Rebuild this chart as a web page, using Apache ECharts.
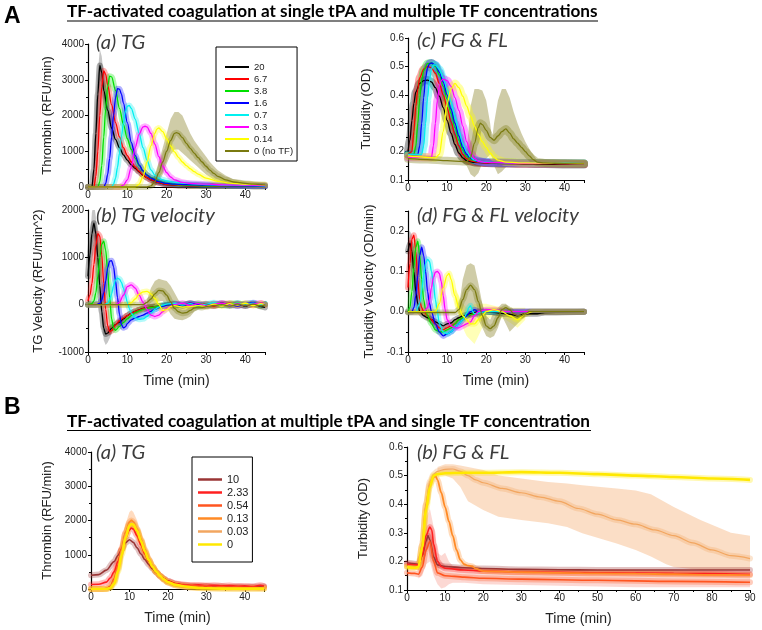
<!DOCTYPE html>
<html><head><meta charset="utf-8">
<script src="https://cdn.jsdelivr.net/npm/echarts@6/dist/echarts.min.js"></script>
<style>html,body{margin:0;padding:0;background:#fff}#c{width:762px;height:630px}</style>
</head><body><div id="c"></div>
<script>
// ---------------- DATA ----------------
const tfNames = ['20','6.7','3.8','1.6','0.7','0.3','0.14','0 (no TF)'];
const tpaNames = ['10','2.33','0.54','0.13','0.03','0'];

// A(a) thrombin generation (RFU/min) vs time (min)
const tg20 = [[0,0],[1,0],[1.5,500],[2,1500],[2.5,2600],[3,3400],[3.5,3200],[4,2700],[5,2150],[6,1650],[7,1330],[8,1100],[9,900],[10,750],[11,620],[12,520],[13,420],[14,330],[15,260],[16,200],[18,120],[20,70],[23,45],[26,35],[30,30],[35,25],[40,25],[45,20]];
const tg6_7 = [[0,0],[1.5,0],[2,300],[2.5,1000],[3,2000],[3.5,2800],[4,3250],[4.5,3150],[5,2850],[6,2300],[7,1800],[8,1400],[9,1100],[10,880],[11,700],[12,560],[13,440],[14,340],[15,260],[16,200],[18,120],[20,70],[23,45],[26,35],[30,30],[35,25],[40,25],[45,20]];
const tg3_8 = [[0,0],[2.5,0],[3,150],[3.5,600],[4,1400],[4.5,2200],[5,2800],[5.5,3100],[6,3080],[7,2700],[8,2200],[9,1750],[10,1350],[11,1050],[12,800],[13,600],[14,450],[15,340],[16,260],[18,160],[20,100],[23,60],[26,45],[30,35],[35,30],[40,25],[45,20]];
const tg1_6 = [[0,0],[4,0],[4.5,100],[5,350],[5.5,800],[6,1400],[6.5,2000],[7,2500],[7.5,2750],[8,2740],[8.5,2600],[9,2350],[10,1800],[11,1250],[12,880],[13,620],[14,450],[15,330],[16,250],[18,150],[20,100],[22,80],[25,65],[30,50],[35,40],[40,30],[45,25]];
const tg0_7 = [[0,0],[6,0],[6.5,80],[7,250],[7.5,550],[8,950],[8.5,1400],[9,1800],[9.5,2100],[10,2260],[10.5,2280],[11,2200],[12,1900],[13,1500],[14,1100],[15,750],[16,480],[17,330],[18,250],[19,200],[20,170],[22,130],[25,100],[30,70],[35,55],[40,45],[45,35]];
const tg0_3 = [[0,0],[8,0],[9,50],[10,200],[11,550],[12,1100],[13,1480],[14,1680],[14.5,1700],[15,1680],[16,1500],[17,1200],[18,850],[19,580],[20,400],[21,280],[22,200],[24,130],[26,100],[30,80],[35,60],[40,50],[45,40]];
const tg0_14 = [[0,0],[12,0],[13,80],[14,300],[15,700],[16,1150],[17,1500],[17.5,1620],[18,1650],[19,1550],[20,1350],[21,1150],[22,980],[23,830],[24,700],[25,600],[26,510],[27,430],[28,360],[30,250],[33,160],[36,110],[40,80],[45,60]];
const tg0 = [[0,0],[15,0],[16,30],[17,150],[18,400],[19,700],[20,1000],[21,1300],[22,1500],[22.5,1520],[23,1500],[24,1380],[25,1220],[26,1080],[27,950],[28,820],[29,700],[30,580],[31,470],[32,380],[33,300],[35,200],[37,140],[40,100],[42,80],[45,60]];
// bands [time, low, high]
const tg20Band = [[1.5,200,900],[2,1000,2400],[2.5,2000,3200],[3,3000,3850],[3.5,2900,3650],[4,2450,3100],[5,1950,2450],[6,1500,1850]];
const tg0Band = [[16,-30,100],[17,0,350],[18,150,700],[19,350,1100],[20,650,1500],[21,900,1900],[22,1050,2100],[23,1050,2100],[24,950,2000],[25,850,1750],[26,750,1500],[27,650,1300],[28,550,1150],[29,450,1000],[30,350,850],[31,280,700],[32,200,580],[33,150,470],[35,100,320],[37,70,220],[40,50,160],[45,30,120]];

// A(c) turbidity (OD)
const fg20 = [[0,0.2],[0.5,0.24],[1,0.31],[1.5,0.37],[2,0.41],[3,0.44],[4,0.45],[5,0.452],[6,0.445],[7,0.425],[8,0.395],[9,0.355],[10,0.31],[11,0.265],[12,0.225],[13,0.195],[14,0.178],[15,0.168],[17,0.162],[20,0.16],[25,0.158],[30,0.157],[35,0.156],[40,0.155],[45,0.155]];
const fg6_7 = [[0,0.19],[1,0.2],[1.5,0.27],[2,0.36],[2.5,0.42],[3,0.46],[4,0.49],[5,0.5],[6,0.495],[7,0.475],[8,0.44],[9,0.4],[10,0.355],[11,0.305],[12,0.26],[13,0.22],[14,0.19],[15,0.175],[16,0.167],[18,0.162],[20,0.16],[30,0.158],[45,0.156]];
const fg3_8 = [[0,0.19],[1.5,0.19],[2,0.22],[2.5,0.3],[3,0.39],[3.5,0.45],[4,0.485],[5,0.51],[6,0.512],[7,0.5],[8,0.47],[9,0.43],[10,0.385],[11,0.335],[12,0.285],[13,0.24],[14,0.205],[15,0.183],[16,0.172],[18,0.165],[20,0.162],[30,0.16],[45,0.158]];
const fg1_6 = [[0,0.19],[2.5,0.19],[3,0.22],[3.5,0.3],[4,0.39],[4.5,0.46],[5,0.495],[5.5,0.51],[6,0.512],[7,0.505],[8,0.48],[9,0.445],[10,0.4],[11,0.35],[12,0.3],[13,0.255],[14,0.215],[15,0.19],[16,0.175],[18,0.165],[20,0.162],[30,0.16],[45,0.158]];
const fg0_7 = [[0,0.19],[3.5,0.19],[4,0.22],[4.5,0.3],[5,0.39],[5.5,0.45],[6,0.49],[6.5,0.505],[7,0.505],[8,0.49],[9,0.46],[10,0.42],[11,0.375],[12,0.325],[13,0.275],[14,0.23],[15,0.2],[16,0.18],[17,0.17],[19,0.164],[22,0.161],[30,0.16],[45,0.158]];
const fg0_3 = [[0,0.18],[6,0.18],[6.5,0.22],[7,0.3],[7.5,0.38],[8,0.43],[8.5,0.45],[9,0.455],[10,0.45],[11,0.43],[12,0.39],[13,0.345],[14,0.29],[15,0.235],[16,0.195],[17,0.175],[18,0.166],[20,0.162],[30,0.159],[45,0.157]];
const fg0_14 = [[0,0.185],[2,0.182],[5,0.18],[7,0.178],[8,0.19],[9,0.27],[10,0.37],[11,0.42],[12,0.44],[13,0.425],[14,0.395],[15,0.36],[16,0.325],[17,0.29],[18,0.26],[19,0.235],[20,0.215],[21,0.195],[22,0.18],[23,0.17],[25,0.163],[30,0.16],[45,0.158]];
const fg0 = [[0,0.175],[5,0.172],[10,0.168],[14,0.165],[15,0.165],[16,0.18],[17,0.23],[18,0.285],[18.5,0.3],[19,0.295],[20,0.275],[21,0.25],[22,0.24],[23,0.255],[24,0.27],[25,0.28],[26,0.265],[27,0.245],[28,0.23],[29,0.215],[30,0.2],[31,0.185],[32,0.172],[33,0.163],[35,0.16],[40,0.158],[45,0.157]];
const fg0Band = [[14,0.16,0.17],[15,0.15,0.2],[16,0.12,0.36],[17,0.11,0.42],[18,0.125,0.42],[19,0.16,0.415],[20,0.175,0.38],[21,0.19,0.3],[21.5,0.18,0.24],[22,0.15,0.3],[23,0.12,0.38],[24,0.13,0.42],[25,0.145,0.42],[26,0.15,0.39],[27,0.15,0.34],[28,0.152,0.3],[29,0.153,0.265],[30,0.154,0.235],[31,0.155,0.21],[32,0.155,0.19],[33,0.155,0.17]];

// A(b) TG velocity (RFU/min^2)
const vt20 = [[0,600],[0.5,1050],[1,1500],[1.5,1720],[2,1500],[2.5,1000],[3,400],[3.5,-150],[4,-500],[4.5,-620],[5,-600],[6,-500],[7,-420],[8,-370],[9,-300],[10,-230],[11,-180],[12,-140],[13,-110],[14,-80],[16,-50],[18,-30],[20,-10],[22,10],[24,-20],[26,20],[28,-30],[30,10],[32,-20],[34,30],[36,-10],[38,20],[40,-30],[42,20],[44,-40],[45,-60]];
const vt6_7 = [[0,80],[0.5,200],[1,450],[1.5,850],[2,1250],[2.5,1500],[3,1450],[3.5,1050],[4,450],[4.5,-100],[5,-450],[5.5,-570],[6,-550],[7,-430],[8,-340],[9,-280],[10,-230],[11,-180],[12,-140],[13,-110],[14,-85],[16,-55],[18,-30],[20,-10],[22,20],[24,-10],[26,30],[28,-20],[30,20],[32,-30],[34,10],[36,30],[38,-20],[40,20],[42,-10],[44,30],[45,0]];
const vt3_8 = [[0,0],[1,20],[1.5,80],[2,250],[2.5,600],[3,1000],[3.5,1280],[4,1340],[4.5,1150],[5,700],[5.5,150],[6,-300],[6.5,-500],[7,-540],[8,-460],[9,-380],[10,-300],[11,-230],[12,-170],[13,-130],[14,-100],[16,-60],[18,-30],[20,-10],[22,-20],[24,20],[26,-10],[28,30],[30,-20],[32,20],[34,-10],[36,20],[38,30],[40,-10],[42,20],[44,-20],[45,10]];
const vt1_6 = [[0,0],[2,0],[3,30],[3.5,100],[4,250],[4.5,500],[5,780],[5.5,920],[6,930],[6.5,800],[7,500],[7.5,150],[8,-200],[8.5,-420],[9,-490],[9.5,-470],[10,-400],[11,-320],[12,-280],[13,-250],[14,-220],[15,-180],[16,-140],[17,-100],[18,-60],[19,-30],[20,-10],[22,10],[24,-20],[26,30],[28,0],[30,-30],[32,20],[34,-10],[36,10],[38,-30],[40,20],[42,40],[44,-10],[45,10]];
const vt0_7 = [[0,0],[4,0],[5,30],[5.5,100],[6,230],[6.5,400],[7,520],[7.5,560],[8,540],[8.5,470],[9,350],[9.5,200],[10,50],[10.5,-80],[11,-180],[12,-280],[13,-310],[14,-300],[15,-250],[16,-180],[17,-100],[18,-50],[19,-10],[20,10],[22,30],[24,-10],[26,20],[28,-30],[30,10],[32,40],[34,0],[36,-20],[38,30],[40,-10],[42,30],[44,0],[45,20]];
const vt0_3 = [[0,0],[7,0],[8,50],[9,200],[10,380],[11,420],[12,350],[13,200],[14,50],[15,-100],[16,-220],[17,-250],[18,-220],[19,-150],[20,-80],[21,-30],[22,0],[24,30],[26,-20],[28,20],[30,-30],[32,10],[34,30],[36,-10],[38,20],[40,-20],[42,10],[44,30],[45,0]];
const vt0_14 = [[0,0],[10,0],[11,40],[12,120],[13,220],[14,270],[15,280],[16,230],[17,130],[18,0],[19,-130],[20,-100],[21,-40],[22,-20],[24,-50],[26,-40],[28,-20],[30,-40],[32,10],[34,-30],[36,20],[38,-10],[40,30],[42,-20],[44,20],[45,0]];
const vt0 = [[0,0],[14,0],[15,50],[16,120],[17,230],[18,300],[19,290],[20,200],[21,60],[22,-80],[23,-150],[24,-180],[25,-170],[26,-120],[27,-70],[28,-50],[29,-60],[30,-40],[32,-20],[34,0],[36,-30],[38,10],[40,-20],[42,10],[44,-30],[45,0]];
const vt20Band = [[0,200,900],[0.5,700,1400],[1,1200,1950],[1.5,1450,2150],[2,1250,1850],[2.5,800,1250],[3,200,600],[3.5,-350,50],[4,-750,-300],[4.5,-850,-450],[5,-800,-450],[6,-620,-400]];
const vt0Band = [[15,-20,100],[16,-50,350],[17,0,500],[18,80,550],[19,80,520],[20,-50,500],[21,-200,400],[22,-300,250],[23,-320,100],[24,-330,0],[25,-300,-50],[26,-250,0],[27,-150,20],[28,-100,0],[30,-80,0]];

// A(d) turbidity velocity (OD/min)
const vf20 = [[0,0.15],[0.5,0.17],[1,0.15],[1.5,0.1],[2,0.05],[2.5,0.02],[3,0.0],[4,-0.01],[5,-0.015],[6,-0.02],[7,-0.025],[8,-0.03],[9,-0.035],[10,-0.03],[11,-0.028],[12,-0.02],[13,-0.015],[14,-0.01],[16,-0.005],[18,0],[20,0],[25,-0.005],[28,-0.01],[30,-0.005],[33,-0.005],[35,-0.002],[45,0]];
const vf6_7 = [[0,0.06],[0.5,0.12],[1,0.18],[1.5,0.19],[2,0.15],[2.5,0.08],[3,0.03],[3.5,0.01],[4,0],[5,-0.01],[6,-0.02],[7,-0.03],[8,-0.04],[9,-0.045],[10,-0.04],[11,-0.035],[12,-0.03],[13,-0.02],[14,-0.015],[15,-0.01],[17,-0.005],[20,0],[45,0]];
const vf3_8 = [[0,0],[0.5,0.01],[1,0.05],[1.5,0.11],[2,0.16],[2.5,0.175],[3,0.14],[3.5,0.08],[4,0.03],[4.5,0.005],[5,-0.01],[6,-0.03],[7,-0.045],[8,-0.05],[9,-0.05],[10,-0.045],[11,-0.04],[12,-0.03],[13,-0.02],[14,-0.015],[15,-0.01],[17,-0.005],[20,0],[45,0]];
const vf1_6 = [[0,0],[1,0],[1.5,0.01],[2,0.04],[2.5,0.09],[3,0.14],[3.5,0.16],[4,0.14],[4.5,0.1],[5,0.05],[5.5,0.02],[6,0],[7,-0.03],[8,-0.05],[9,-0.06],[10,-0.055],[11,-0.05],[12,-0.04],[13,-0.03],[14,-0.02],[15,-0.01],[16,0],[17,0.005],[18,0],[20,0],[45,0]];
const vf0_7 = [[0,0],[2,0],[3,0.02],[3.5,0.05],[4,0.09],[4.5,0.12],[5,0.13],[5.5,0.125],[6,0.1],[6.5,0.07],[7,0.03],[7.5,0],[8,-0.03],[9,-0.05],[10,-0.055],[11,-0.05],[12,-0.04],[13,-0.03],[14,-0.02],[15,-0.005],[15.5,0.01],[16,0.015],[16.5,0],[17,-0.005],[20,0],[45,0]];
const vf0_3 = [[0,0],[4,0],[5,0.01],[5.5,0.03],[6,0.06],[6.5,0.085],[7,0.098],[7.5,0.1],[8,0.095],[8.5,0.075],[9,0.04],[9.5,0.005],[10,-0.02],[11,-0.035],[12,-0.04],[13,-0.04],[14,-0.035],[15,-0.03],[16,-0.025],[17,-0.01],[18,0],[20,0.005],[22,0.005],[25,0],[45,0]];
const vf0_14 = [[0,0],[7,0],[8,0.02],[9,0.06],[10,0.09],[10.5,0.095],[11,0.08],[12,0.04],[13,0.01],[14,-0.01],[15,-0.02],[16,-0.03],[17,-0.03],[18,-0.02],[19,-0.01],[20,0],[22,0.005],[24,0],[26,-0.01],[28,-0.02],[30,-0.005],[32,0],[45,0]];
const vf0 = [[0,-0.002],[12,-0.002],[13,0.005],[14,0.03],[15,0.055],[16,0.066],[17,0.055],[18,0.025],[19,-0.01],[20,-0.035],[21,-0.042],[22,-0.035],[23,-0.015],[24,0.005],[25,0.01],[26,0.005],[27,-0.005],[28,-0.01],[29,-0.01],[30,-0.005],[31,0],[45,0]];
const vf20Band = [[0,0.12,0.2],[0.5,0.13,0.2],[1,0.12,0.19],[1.5,0.07,0.13]];
const vf0_14Band = [[12,0.02,0.06],[13,-0.01,0.04],[14,-0.04,0.02],[15,-0.06,0.01],[16,-0.07,0.01],[17,-0.08,0.02],[18,-0.06,0.02],[19,-0.04,0.02],[20,-0.02,0.02],[22,-0.01,0.015],[25,-0.02,0.01],[28,-0.04,0.01],[30,-0.02,0.01]];
const vf0Band = [[13,-0.005,0.01],[14,-0.01,0.08],[15,0,0.115],[16,0.01,0.12],[17,0,0.115],[18,-0.02,0.07],[19,-0.04,0.02],[20,-0.06,-0.01],[21,-0.065,-0.02],[22,-0.06,0],[23,-0.04,0.01],[24,-0.01,0.02],[25,-0.03,0.02],[26,-0.05,0.01],[27,-0.04,0.005],[28,-0.03,0.005],[30,-0.01,0]];

// B(a) thrombin generation at multiple tPA
const bt10 = [[0,400],[2,420],[4,550],[6,800],[7,980],[8,1150],[9,1350],[10,1440],[11,1360],[12,1200],[13,1020],[14,860],[15,720],[16,590],[17,480],[18,380],[19,300],[20,230],[22,150],[24,110],[26,90],[28,80],[30,85],[32,70],[34,75],[36,60],[38,70],[40,60],[42,65],[44,70],[45,80]];
const bt2_33 = [[0,130],[2,140],[4,200],[5,320],[6,500],[7,800],[8,1150],[9,1500],[10,1720],[10.5,1780],[11,1750],[12,1550],[13,1280],[14,1020],[15,810],[16,630],[17,490],[18,380],[19,300],[20,230],[22,160],[24,130],[26,110],[28,120],[30,100],[32,110],[34,90],[36,100],[38,80],[40,90],[42,70],[44,110],[45,80]];
const bt0_54 = [[0,0],[3,0],[4,20],[5,80],[6,300],[7,700],[8,1200],[9,1650],[10,1880],[10.5,1920],[11,1880],[12,1680],[13,1400],[14,1100],[15,860],[16,660],[17,500],[18,380],[19,280],[20,200],[22,140],[24,110],[26,100],[28,80],[30,90],[32,60],[34,70],[36,50],[38,60],[40,40],[42,50],[44,40],[45,50]];
const bt0_13 = [[0,0],[4,0],[5,50],[6,220],[7,600],[8,1150],[9,1650],[10,1950],[10.5,2000],[11,1960],[12,1750],[13,1450],[14,1150],[15,880],[16,670],[17,500],[18,370],[19,270],[20,190],[22,110],[24,70],[26,50],[28,40],[30,30],[35,20],[40,20],[45,20]];
const bt0_03 = [[0,0],[4,0],[5,40],[6,200],[7,560],[8,1100],[9,1600],[10,1900],[10.5,1950],[11,1920],[12,1720],[13,1430],[14,1130],[15,870],[16,660],[17,490],[18,360],[19,260],[20,185],[22,110],[24,70],[26,50],[28,35],[30,25],[35,20],[40,15],[45,15]];
const bt0 = [[0,0],[4,0],[5,30],[6,150],[7,500],[8,1000],[9,1500],[10,1850],[10.5,1900],[11,1880],[12,1700],[13,1400],[14,1100],[15,850],[16,650],[17,500],[18,380],[19,280],[20,200],[22,120],[24,80],[26,50],[28,30],[30,20],[35,10],[45,10]];
const bt0_13Band = [[6,150,300],[7,450,800],[8,950,1400],[9,1450,1900],[10,1700,2250],[10.5,1750,2300],[11,1700,2250],[12,1500,2000],[13,1250,1650],[14,1000,1300],[15,780,1000]];

// B(b) turbidity at multiple tPA
const bo10 = [[0,0.195],[2,0.192],[3,0.19],[4,0.22],[5,0.27],[5.5,0.29],[6,0.275],[7,0.215],[8,0.188],[10,0.182],[15,0.178],[20,0.175],[30,0.172],[40,0.171],[50,0.17],[60,0.17],[70,0.17],[80,0.17],[90,0.17]];
const bo2_33 = [[0,0.19],[3,0.188],[4,0.22],[5,0.29],[6,0.32],[6.5,0.31],[7,0.26],[8,0.2],[9,0.182],[10,0.176],[15,0.17],[20,0.166],[30,0.163],[50,0.16],[70,0.158],[90,0.155]];
const bo0_54 = [[0,0.16],[2,0.158],[3,0.155],[4,0.18],[5,0.24],[6,0.27],[7,0.2],[8,0.16],[10,0.15],[15,0.145],[20,0.141],[30,0.138],[50,0.134],[70,0.13],[90,0.127]];
const bo0_13 = [[0,0.182],[3,0.18],[4,0.26],[5,0.4],[6,0.47],[7,0.495],[7.5,0.498],[8,0.485],[9,0.44],[10,0.39],[11,0.34],[12,0.29],[13,0.24],[14,0.205],[15,0.19],[16,0.185],[17,0.183],[18,0.175],[20,0.166],[30,0.162],[40,0.16],[50,0.158],[60,0.157],[70,0.155],[80,0.153],[90,0.152]];
const bo0_03 = [[0,0.182],[3,0.18],[4,0.26],[5,0.4],[6,0.48],[7,0.505],[8,0.515],[10,0.522],[12,0.523],[14,0.515],[16,0.5],[18,0.485],[20,0.475],[25,0.455],[30,0.44],[35,0.425],[40,0.41],[45,0.385],[50,0.365],[55,0.345],[60,0.33],[65,0.31],[70,0.29],[75,0.265],[80,0.24],[85,0.22],[90,0.21]];
const bo0 = [[0,0.18],[2,0.178],[3,0.18],[4,0.25],[5,0.38],[6,0.46],[7,0.5],[8,0.505],[10,0.508],[15,0.51],[20,0.51],[30,0.512],[40,0.51],[50,0.505],[60,0.5],[70,0.495],[80,0.49],[90,0.485]];
const bo0_03Band = [[8,0.5,0.53],[10,0.5,0.54],[12,0.49,0.54],[14,0.46,0.535],[16,0.41,0.53],[20,0.38,0.52],[24,0.356,0.5],[30,0.345,0.49],[37,0.333,0.478],[42,0.32,0.472],[46,0.298,0.466],[55,0.263,0.455],[60,0.24,0.448],[64,0.217,0.435],[68,0.19,0.405],[70,0.18,0.39],[77,0.17,0.345],[85,0.17,0.3],[90,0.17,0.29]];
const boRedBand = [[3,0.14,0.2],[4,0.15,0.26],[5,0.19,0.35],[6,0.2,0.385],[7,0.15,0.32],[8,0.12,0.23],[9,0.105,0.22],[10,0.11,0.23],[11,0.12,0.2],[12,0.125,0.185],[15,0.125,0.18],[20,0.12,0.175],[40,0.115,0.17],[60,0.11,0.17],[90,0.11,0.165]];

// ---------------- STYLE / LAYOUT ----------------
const tfColors = ['#000000','#ff0000','#00e000','#0000ff','#00f0f0','#ff00ff','#ffff00','#7a7a10'];
const tpaColors = ['#9a3535','#ff2020','#ff5520','#ff8a25','#f2a660','#ffe800'];
const FONT = 'Liberation Sans, Arial, sans-serif';
const grids = [
  {left:88, top:44, width:177, height:143},   // A(a)
  {left:408, top:38, width:176, height:142},  // A(c)
  {left:88, top:210, width:177, height:142},  // A(b)
  {left:408, top:211, width:176, height:141}, // A(d)
  {left:91, top:452, width:173, height:137},  // B(a)
  {left:407, top:447, width:343, height:143}  // B(b)
].map(g => Object.assign({outerBoundsMode:'none', containLabel:false}, g));

function fitSize(text, css, target){
  const c = document.createElement('canvas').getContext('2d');
  c.font = css.replace('SZ','100px');
  return 100 * target / c.measureText(text).width;
}

function xAx(i, max, interval, named){
  return {type:'value', gridIndex:i, min:0, max:max, interval:interval,
    name: named ? 'Time (min)' : '', nameLocation:'middle', nameGap:22, nameMoveOverlap:false,
    nameTextStyle:{fontFamily:FONT, fontSize:14, color:'#222'},
    axisLine:{show:true, onZero:false, lineStyle:{color:'#000', width:1.2}},
    axisTick:{show:true, length:3, lineStyle:{color:'#000'}},
    minorTick:{show:true, splitNumber:2, length:2, lineStyle:{color:'#000'}},
    splitLine:{show:false}, minorSplitLine:{show:false},
    axisLabel:{fontFamily:FONT, fontSize:10, color:'#222', margin:3, showMaxLabel: max % interval === 0,
      formatter: v => (Math.abs(v/interval - Math.round(v/interval)) < 1e-6 ? String(v) : '')}};
}
function yAx(i, min, max, interval, name, gap, dec){
  return {type:'value', gridIndex:i, min:min, max:max, interval:interval,
    name:name, nameLocation:'middle', nameGap:gap, nameMoveOverlap:false,
    nameTextStyle:{fontFamily:FONT, fontSize:13, color:'#222'},
    axisLine:{show:true, onZero:false, lineStyle:{color:'#000', width:1.2}},
    axisTick:{show:true, length:3, lineStyle:{color:'#000'}},
    minorTick:{show:true, splitNumber:2, length:2, lineStyle:{color:'#000'}},
    splitLine:{show:false}, minorSplitLine:{show:false},
    axisLabel:{fontFamily:FONT, fontSize:10, color:'#222', margin:4,
      formatter: v => (Math.abs(v/interval - Math.round(v/interval)) < 1e-6 ? v.toFixed(dec) : '')}};
}

const series = [];
function curve(g, name, color, data, w, hw, hop){
  series.push({type:'line', name:name+' band', xAxisIndex:g, yAxisIndex:g, data:data, smooth:0.3, smoothMonotone:'x',
    symbol:'none', silent:true, z:1, lineStyle:{color:color, width:hw, opacity:hop, cap:'round', join:'round'}, itemStyle:{color:color}});
  series.push({type:'line', name:name, xAxisIndex:g, yAxisIndex:g, data:data, smooth:0.3, smoothMonotone:'x',
    symbol:'none', z:3, lineStyle:{color:color, width:w}, itemStyle:{color:color}});
}
function band(g, color, b, op){
  series.push({type:'custom', xAxisIndex:g, yAxisIndex:g, silent:true, clip:true, z:0,
    data:[[b[0][0], b[0][1]]], encode:{x:0, y:1},
    renderItem:(params, api) => {
      const top = b.map(p => api.coord([p[0], p[2]]));
      const bot = b.map(p => api.coord([p[0], p[1]])).reverse();
      const cs = params.coordSys;
      return {type:'group', children:[{type:'polygon', shape:{points:top.concat(bot)}, style:{fill:color, opacity:op}}],
        clipPath:{type:'rect', shape:{x:cs.x, y:cs.y, width:cs.width, height:cs.height}}};
    }});
}

// bands
band(0, '#808080', tg20Band, 0.45);
band(0, '#a09a50', tg0Band, 0.5);
band(1, '#a09a50', fg0Band, 0.5);
band(2, '#808080', vt20Band, 0.45);
band(2, '#a09a50', vt0Band, 0.5);
band(3, '#808080', vf20Band, 0.45);
band(3, '#ffff60', vf0_14Band, 0.45);
band(3, '#a09a50', vf0Band, 0.5);
band(4, '#ffb070', bt0_13Band, 0.45);
band(5, '#f8c8a0', bo0_03Band, 0.6);
band(5, '#f59080', boRedBand, 0.35);

const aTG = [tg20, tg6_7, tg3_8, tg1_6, tg0_7, tg0_3, tg0_14, tg0];
const aFG = [fg20, fg6_7, fg3_8, fg1_6, fg0_7, fg0_3, fg0_14, fg0];
const aVT = [vt20, vt6_7, vt3_8, vt1_6, vt0_7, vt0_3, vt0_14, vt0];
const aVF = [vf20, vf6_7, vf3_8, vf1_6, vf0_7, vf0_3, vf0_14, vf0];
tfNames.forEach((n, k) => {
  curve(0, n, tfColors[k], aTG[k], 1.3, 6, 0.3);
  curve(1, n, tfColors[k], aFG[k], 1.3, 8, 0.35);
  curve(2, n, tfColors[k], aVT[k], 1.3, 6, 0.3);
  curve(3, n, tfColors[k], aVF[k], 1.3, 6, 0.3);
});
const bTG = [bt10, bt2_33, bt0_54, bt0_13, bt0_03, bt0];
const bOD = [bo10, bo2_33, bo0_54, bo0_13, bo0_03, bo0];
const bW = [1.6, 1.6, 1.6, 1.8, 1.2, 2.6];
tpaNames.forEach((n, k) => {
  curve(4, n, tpaColors[k], bTG[k], bW[k], 6, 0.3);
  curve(5, n, tpaColors[k], bOD[k], bW[k], 6, 0.3);
});

const titleCss = 'bold SZ Lato, "Open Sans", sans-serif';
const tA = 'TF-activated coagulation at single tPA and multiple TF concentrations';
const tB = 'TF-activated coagulation at multiple tPA and single TF concentration';
const tSize = fitSize(tA, titleCss, 531);
const lblCss = 'italic SZ Lato, "Open Sans", sans-serif';
const lSize = fitSize('(d) FG & FL velocity', lblCss, 162);

function txt(s, x, y, size, weight, style, fam, color, align){
  return {type:'text', silent:true, style:{text:s, x:x, y:y, fontSize:size, fontWeight:weight, fontStyle:style,
    fontFamily:fam, fill:color||'#000', align:align||'left', verticalAlign:'top'}};
}
const TF = 'Lato, "Open Sans", sans-serif';
const graphic = [
  txt('A', 4, 5, 23, 'bold', 'normal', FONT),
  txt('B', 4, 396, 23, 'bold', 'normal', FONT),
  txt(tA, 67, 3, tSize, 'bold', 'normal', TF),
  txt(tB, 67, 413, tSize, 'bold', 'normal', TF),
  {type:'line', silent:true, shape:{x1:67, y1:21, x2:598, y2:21}, style:{stroke:'#000', lineWidth:1.2}},
  {type:'line', silent:true, shape:{x1:67, y1:430.5, x2:591, y2:430.5}, style:{stroke:'#000', lineWidth:1.2}},
  txt('(a) TG', 96, 32, lSize, 'normal', 'italic', TF, '#3c3c3c'),
  txt('(c) FG & FL', 417, 30, lSize, 'normal', 'italic', TF, '#3c3c3c'),
  txt('(b) TG velocity', 96, 205, lSize, 'normal', 'italic', TF, '#3c3c3c'),
  txt('(d) FG & FL velocity', 417, 205, lSize, 'normal', 'italic', TF, '#3c3c3c'),
  txt('(a) TG', 96, 442, lSize, 'normal', 'italic', TF, '#3c3c3c'),
  txt('(b) FG & FL', 417, 442, lSize, 'normal', 'italic', TF, '#3c3c3c'),
  txt('TF (pM)', 226, 51, 9.5, 'normal', 'normal', FONT, '#222'),
  txt('tPA (\u03bcg/ml)', 195, 463, 10.5, 'normal', 'normal', FONT, '#222')
];

const legendBase = {orient:'vertical', icon:'rect', itemWidth:24, selectedMode:false,
  borderColor:'#000', borderWidth:1, backgroundColor:'#fff'};

const option = {
  animation:false,
  backgroundColor:'#fff',
  grid: grids,
  xAxis: [xAx(0,45,10,false), xAx(1,45,10,false), xAx(2,45,10,true), xAx(3,45,10,true), xAx(4,45,10,true), xAx(5,90,10,true)],
  yAxis: [
    yAx(0, 0, 4000, 1000, 'Thrombin (RFU/min)', 34, 0),
    yAx(1, 0.1, 0.6, 0.1, 'Turbidity (OD)', 35, 1),
    yAx(2, -1000, 2000, 1000, 'TG Velocity (RFU/min^2)', 43, 0),
    yAx(3, -0.1, 0.25, 0.1, 'Turbidity Velocity (OD/min)', 32, 1),
    yAx(4, 0, 4000, 1000, 'Thrombin (RFU/min)', 37, 0),
    yAx(5, 0.1, 0.6, 0.1, 'Turbidity (OD)', 37, 1)
  ],
  legend: [
    Object.assign({}, legendBase, {data:tfNames, left:216, top:47, itemGap:2, itemHeight:2, padding:[15,4,5,9],
      textStyle:{fontFamily:FONT, fontSize:9.5, color:'#222'}}),
    Object.assign({}, legendBase, {data:tpaNames, left:192, top:457, itemGap:2, itemHeight:2.5, padding:[17,4,12,6],
      textStyle:{fontFamily:FONT, fontSize:11, color:'#222'}})
  ],
  graphic: graphic,
  series: series
};
const chart = echarts.init(document.getElementById('c'), null, {renderer:'canvas'});
chart.setOption(option);
</script></body></html>
